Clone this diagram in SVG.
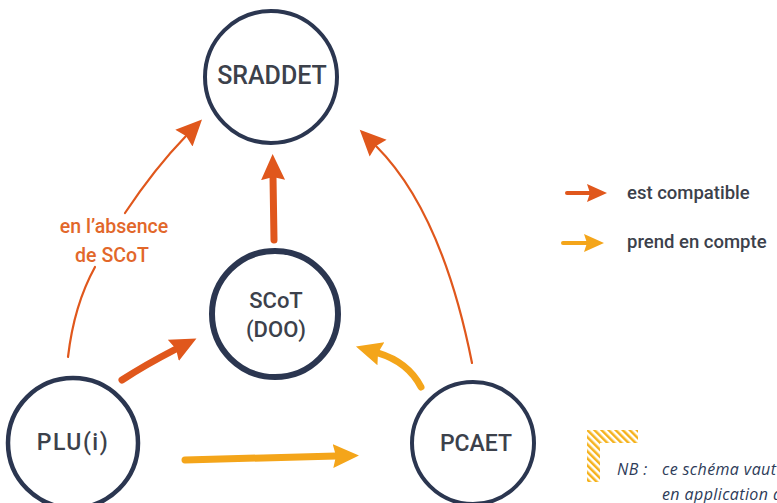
<svg xmlns="http://www.w3.org/2000/svg" width="777" height="503" viewBox="0 0 777 503">
<style>
.node{fill:#fff;stroke:#2b3650}
.lbl{font-family:Roboto,"Liberation Sans",sans-serif;font-weight:500;fill:#3c414b;text-anchor:middle}
.or{fill:none;stroke:#e0571c;stroke-linecap:round}
.ye{fill:none;stroke:#f4a51a;stroke-linecap:round}
.thick{stroke-width:7}
.thin{stroke-width:2.2}
.leg{font-family:Roboto,"Liberation Sans",sans-serif;font-weight:500;font-size:18.5px;fill:#3c414b}
.abs{font-family:Roboto,"Liberation Sans",sans-serif;font-weight:500;font-size:19.5px;fill:#e2672a;text-anchor:middle}
.nb{font-family:'Open Sans','Liberation Sans',sans-serif;font-style:italic;font-size:16px;fill:#2d3b58;letter-spacing:0.4px}
</style>
<defs>
<marker id="hO" markerUnits="userSpaceOnUse" markerWidth="30" markerHeight="30" viewBox="0 -15 30 30" refX="3" refY="0" orient="auto"><path d="M0,-12 L26,0 L0,12 L3,0 Z" fill="#e0571c"/></marker>
<marker id="hY" markerUnits="userSpaceOnUse" markerWidth="30" markerHeight="30" viewBox="0 -15 30 30" refX="3" refY="0" orient="auto"><path d="M0,-12 L26,0 L0,12 L3,0 Z" fill="#f4a51a"/></marker>
<marker id="lO" markerUnits="userSpaceOnUse" markerWidth="24" markerHeight="24" viewBox="0 -12 24 24" refX="3" refY="0" orient="auto"><path d="M0,-9 L20,0 L0,9 L3,0 Z" fill="#e0571c"/></marker>
<marker id="lY" markerUnits="userSpaceOnUse" markerWidth="24" markerHeight="24" viewBox="0 -12 24 24" refX="3" refY="0" orient="auto"><path d="M0,-9 L20,0 L0,9 L3,0 Z" fill="#f4a51a"/></marker>
<pattern id="hatch" patternUnits="userSpaceOnUse" width="5" height="5" patternTransform="rotate(-45)"><rect width="5" height="5" fill="#fff"/><rect width="2.5" height="5" fill="#f5b21c"/></pattern>
</defs>
<rect width="777" height="503" fill="#fff"/>

<g id="connectors">
<path class="or thick" d="M274,240 L273,177" marker-end="url(#hO)"/>
<path class="or thick" d="M122,380 Q145,365 176,349" marker-end="url(#hO)"/>
<path class="or thin" d="M68,357 Q74,305 95,267"/>
<path class="or thin" d="M125,213 Q155,168 186,136" marker-end="url(#hO)"/>
<path class="or thin" d="M472,363 Q442,212 376,146" marker-end="url(#hO)"/>
<path class="ye thick" d="M421,387 Q408,362 378,353" marker-end="url(#hY)"/>
<path class="ye thick" d="M185,460 L336,456" marker-end="url(#hY)"/>
</g>

<g id="label-absence">
<text class="abs" x="114" y="233">en l’absence</text>
<text class="abs" x="112" y="262">de SCoT</text>
</g>

<g id="sraddet">
<circle class="node" cx="271" cy="77" r="66" stroke-width="4"/>
<text class="lbl" x="272" y="84" font-size="25">SRADDET</text>
</g>
<g id="scot">
<circle class="node" cx="275" cy="314" r="63" stroke-width="6"/>
<text class="lbl" x="276" y="308" font-size="22">SCoT</text>
<text class="lbl" x="276" y="337" font-size="22">(DOO)</text>
</g>
<g id="plu">
<circle class="node" cx="73" cy="443" r="65" stroke-width="4.5"/>
<text class="lbl" x="73" y="450" font-size="23" letter-spacing="1.5">PLU(i)</text>
</g>
<g id="pcaet">
<circle class="node" cx="473" cy="443" r="61" stroke-width="4"/>
<text class="lbl" x="476" y="451" font-size="23">PCAET</text>
</g>

<g id="legend">
<path class="or" stroke-width="4" d="M567,193 L590,193" marker-end="url(#lO)"/>
<text class="leg" x="627" y="199">est compatible</text>
<path class="ye" stroke-width="4" d="M563,243 L587,243" marker-end="url(#lY)"/>
<text class="leg" x="627" y="248">prend en compte</text>
</g>

<g id="note">
<path d="M587,430 H638 V443 H600 V482 H587 Z" fill="url(#hatch)"/>
<text class="nb" x="617" y="475">NB :</text>
<text class="nb" x="662" y="475">ce schéma vaut</text>
<text class="nb" x="662" y="500">en application de</text>
</g>
</svg>
